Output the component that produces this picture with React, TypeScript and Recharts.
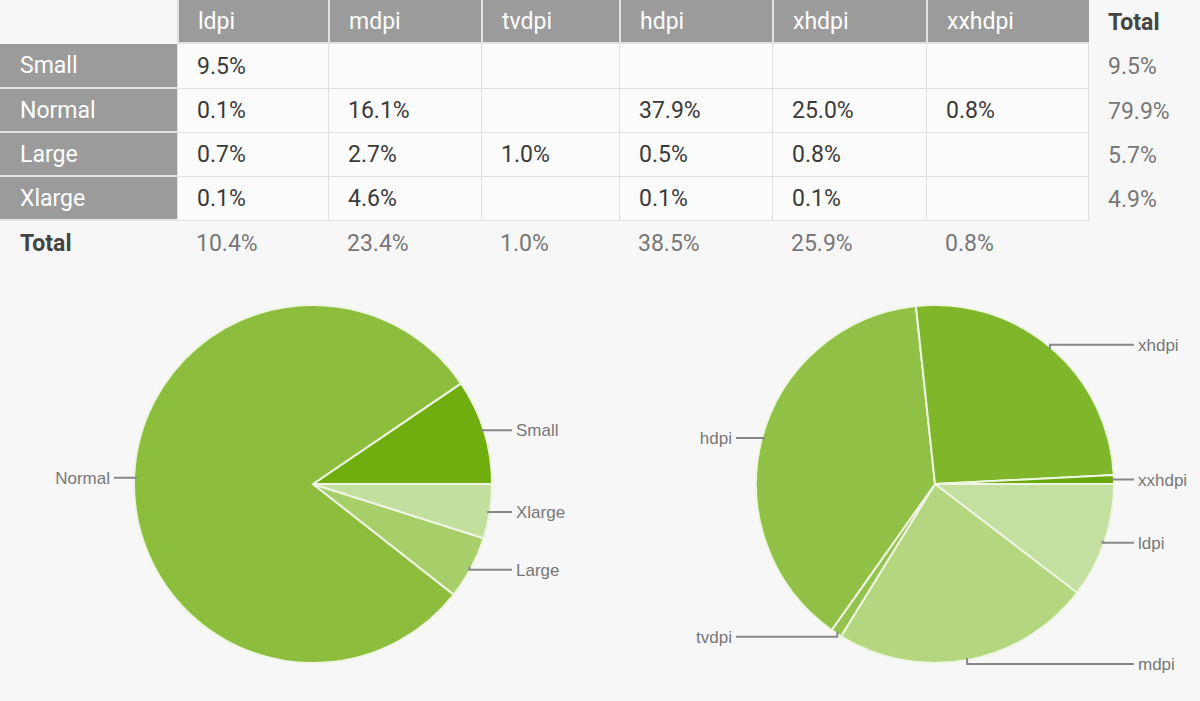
import React from "react";
import { PieChart, Pie, Cell } from "recharts";

// table data
const densities = ["ldpi", "mdpi", "tvdpi", "hdpi", "xhdpi", "xxhdpi"];
const sizes = ["Small", "Normal", "Large", "Xlarge"];
const smallRow = [9.5, null, null, null, null, null];
const normalRow = [0.1, 16.1, null, 37.9, 25.0, 0.8];
const largeRow = [0.7, 2.7, 1.0, 0.5, 0.8, null];
const xlargeRow = [0.1, 4.6, null, 0.1, 0.1, null];
const sizeTotals = [9.5, 79.9, 5.7, 4.9];
const densityTotals = [10.4, 23.4, 1.0, 38.5, 25.9, 0.8];

const sizeColors = ["#70ad0e", "#8cbd3d", "#a6cf6a", "#c3df9e"];
const densityColors = ["#c4e0a0", "#b3d67f", "#94c34e", "#90c045", "#80b72a", "#6aaa08"];

const rows = [smallRow, normalRow, largeRow, xlargeRow];
const sizeData = sizes.map((name, i) => ({ name, value: sizeTotals[i] }));
const densityData = densities.map((name, i) => ({ name, value: densityTotals[i] }));

const colWidths = [177, 151, 153, 138, 153, 154, 163, 111];
const rowHeights = [44, 45, 44, 44, 44, 45];

const fmt = (v: number | null) => (v == null ? "" : v.toFixed(1) + "%");

const RADIAN = Math.PI / 180;

// labelled legend: leader line from slice edge out to a fixed column
const renderLabel = (props: any) => {
  const { cx, cy, midAngle, outerRadius, name } = props;
  const cos = Math.cos(-midAngle * RADIAN);
  const sin = Math.sin(-midAngle * RADIAN);
  const ex = cx + (outerRadius - 2) * cos;
  const ey = cy + (outerRadius - 2) * sin;
  const ty = cy + (outerRadius + 4) * sin;
  const right = cos >= 0;
  const lx = cx + (right ? 1 : -1) * (outerRadius + 20);
  const tx = cx + (right ? 1 : -1) * (outerRadius + 24);
  return (
    <g key={name}>
      <polyline
        points={`${ex},${ey} ${ex},${ty} ${lx},${ty}`}
        fill="none"
        stroke="#888"
        strokeWidth={2}
      />
      <text
        x={tx}
        y={ty}
        dy="0.36em"
        textAnchor={right ? "start" : "end"}
        fill="#777"
        fontSize={17}
        fontFamily="'Liberation Sans', Arial, sans-serif"
      >
        {name}
      </text>
    </g>
  );
};

const headStyle: React.CSSProperties = {
  background: "#9b9b9b",
  color: "#fff",
  borderLeft: "2px solid #e2e2e2",
  borderBottom: "2px solid #e2e2e2",
};
const labelStyle: React.CSSProperties = {
  background: "#9b9b9b",
  color: "#fff",
  borderBottom: "2px solid #e2e2e2",
};
const dataStyle: React.CSSProperties = {
  background: "#fbfbfb",
  color: "#3a3a3a",
  borderLeft: "1px solid #e0e0e0",
  borderBottom: "1px solid #e0e0e0",
};

const Table = () => {
  const cells: React.ReactNode[] = [];
  const base: React.CSSProperties = {
    boxSizing: "border-box",
    display: "flex",
    alignItems: "center",
    paddingLeft: 19,
    whiteSpace: "nowrap",
  };
  // header row
  cells.push(<div key="corner" style={base} />);
  densities.forEach((d) =>
    cells.push(
      <div key={"h" + d} style={{ ...base, ...headStyle }}>
        {d}
      </div>
    )
  );
  cells.push(
    <div key="htotal" style={{ ...base, fontWeight: 700, color: "#444" }}>
      Total
    </div>
  );
  rows.forEach((row, r) => {
    cells.push(
      <div key={"l" + r} style={{ ...base, ...labelStyle, paddingLeft: 20 }}>
        {sizes[r]}
      </div>
    );
    row.forEach((v, c) =>
      cells.push(
        <div
          key={"c" + r + c}
          style={{ ...base, ...dataStyle, borderRight: c === row.length - 1 ? "1px solid #e0e0e0" : undefined }}
        >
          {fmt(v)}
        </div>
      )
    );
    cells.push(
      <div key={"t" + r} style={{ ...base, color: "#777" }}>
        {fmt(sizeTotals[r])}
      </div>
    );
  });
  cells.push(
    <div key="ftotal" style={{ ...base, paddingLeft: 20, fontWeight: 700, color: "#444" }}>
      Total
    </div>
  );
  densityTotals.forEach((v, c) =>
    cells.push(
      <div key={"f" + c} style={{ ...base, color: "#777" }}>
        {fmt(v)}
      </div>
    )
  );
  cells.push(<div key="fempty" style={base} />);

  return (
    <div
      style={{
        position: "absolute",
        left: 0,
        top: 0,
        display: "grid",
        gridTemplateColumns: colWidths.map((w) => w + "px").join(" "),
        gridTemplateRows: rowHeights.map((h) => h + "px").join(" "),
        fontFamily: "Roboto, sans-serif",
        fontSize: 23,
      }}
    >
      {cells}
    </div>
  );
};

export default function App() {
  return (
    <div style={{ position: "relative", width: 1200, height: 701, background: "#f7f7f7", overflow: "hidden" }}>
      <style>{`body{margin:0}`}</style>
      <Table />
      <div style={{ position: "absolute", left: 0, top: 270 }}>
        <PieChart width={1200} height={431} margin={{ top: 0, right: 0, bottom: 0, left: 0 }}>
          <Pie
            data={sizeData}
            dataKey="value"
            nameKey="name"
            cx={313}
            cy={214}
            outerRadius={179}
            startAngle={0}
            endAngle={360}
            stroke="#eef6e2"
            strokeWidth={2}
            label={renderLabel}
            labelLine={false}
            isAnimationActive={false}
          >
            {sizeData.map((d, i) => (
              <Cell key={d.name} fill={sizeColors[i]} />
            ))}
          </Pie>
          <Pie
            data={densityData}
            dataKey="value"
            nameKey="name"
            cx={935}
            cy={214}
            outerRadius={179}
            startAngle={360}
            endAngle={0}
            stroke="#eef6e2"
            strokeWidth={2}
            label={renderLabel}
            labelLine={false}
            isAnimationActive={false}
          >
            {densityData.map((d, i) => (
              <Cell key={d.name} fill={densityColors[i]} />
            ))}
          </Pie>
        </PieChart>
      </div>
    </div>
  );
}
